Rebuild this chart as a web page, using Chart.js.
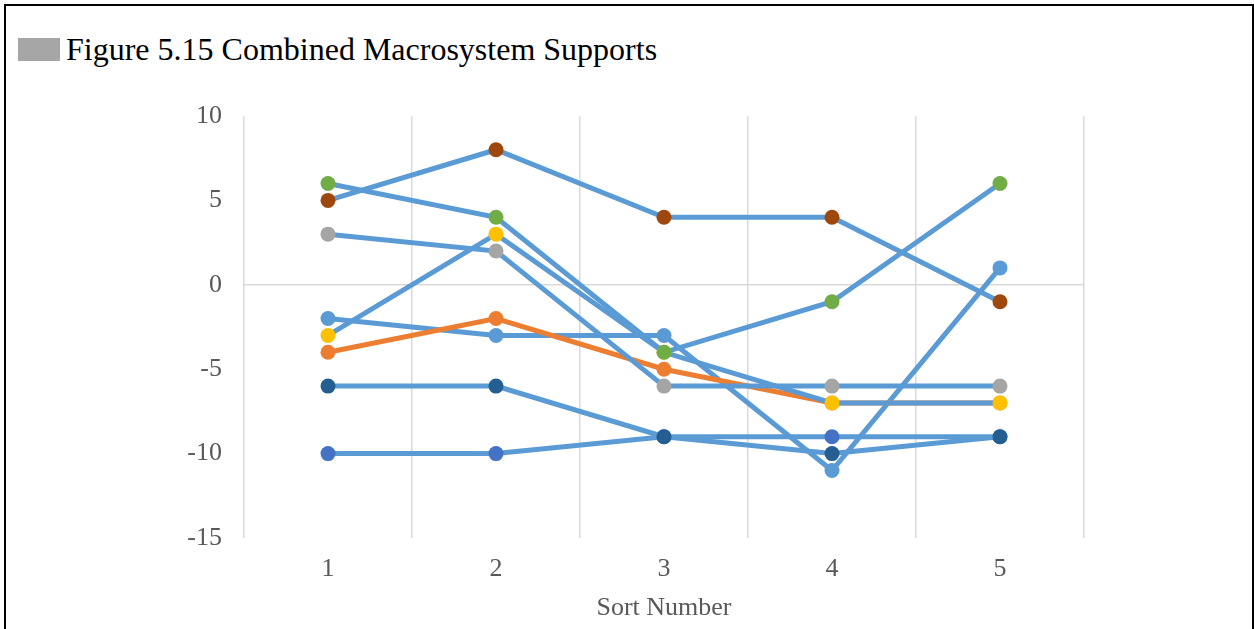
<!DOCTYPE html>
<html>
<head>
<meta charset="utf-8">
<script src="https://cdn.jsdelivr.net/npm/chart.js@4.4.1/dist/chart.umd.min.js"></script>
<style>
  html, body { margin: 0; padding: 0; background: #fff; }
  #wrap { position: relative; width: 1254px; height: 629px; overflow: hidden; }
  #frame { position: absolute; left: 4px; top: 4px; width: 1246px; height: 700px; border: 2px solid #000; }
  #titulo { position: absolute; left: 66px; top: 33px; font: 32px/32px "Liberation Serif", serif; color: #000; white-space: nowrap; }
  #caixa { position: absolute; left: 18px; top: 38px; width: 42px; height: 23px; background: #A6A6A6; }
  #grafico { position: absolute; left: 0; top: 0; }
</style>
</head>
<body>
<div id="wrap">
  <div id="frame"></div>
  <div id="caixa"></div>
  <div id="titulo">Figure 5.15 Combined Macrosystem Supports</div>
  <canvas id="grafico" width="1254" height="629"></canvas>
</div>
<script>
// ====== DADOS ======
const sortNumbers = ["1", "2", "3", "4", "5"];
const yTicks = [10, 5, 0, -5, -10, -15];

const serie1 = [-2, -3, -3, -11, 1];
const serie2 = [-4, -2, -5, -7, -7];
const serie3 = [3, 2, -6, -6, -6];
const serie4 = [-3, 3, -4, -7, -7];
const serie5 = [-10, -10, -9, -9, -9];
const serie6 = [6, 4, -4, -1, 6];
const serie7 = [-6, -6, -9, -10, -9];
const serie8 = [5, 8, 4, 4, -1];

const series = [serie1, serie2, serie3, serie4, serie5, serie6, serie7, serie8];
const corPontos = ["#5B9BD5", "#ED7D31", "#A5A5A5", "#FFC000", "#4472C4", "#70AD47", "#255E91", "#9E480E"];
const corLinhas = ["#5B9BD5", "#ED7D31", "#5B9BD5", "#5B9BD5", "#5B9BD5", "#5B9BD5", "#5B9BD5", "#5B9BD5"];

// ====== GRÁFICO ======
const fonteEixo = { family: "'Liberation Serif', serif", size: 26 };

new Chart(document.getElementById("grafico"), {
  type: "line",
  data: {
    labels: sortNumbers,
    datasets: series.map((valores, i) => ({
      label: "Series " + (i + 1),
      data: valores,
      borderColor: corLinhas[i],
      borderWidth: 5,
      pointBackgroundColor: corPontos[i],
      pointBorderColor: corPontos[i],
      pointBorderWidth: 0,
      pointRadius: 7.5,
      pointHoverRadius: 7.5,
      tension: 0,
      order: series.length - i
    }))
  },
  options: {
    responsive: false,
    animation: false,
    events: [],
    layout: { padding: { top: 116, right: 170, bottom: 0, left: 0 } },
    plugins: { legend: { display: false }, tooltip: { enabled: false } },
    scales: {
      x: {
        offset: true,
        grid: { offset: true, color: "#D9D9D9", lineWidth: 1.5, drawTicks: false },
        border: { display: false },
        ticks: { color: "#595959", font: fonteEixo, padding: 16 },
        title: { display: true, text: "Sort Number", color: "#595959", font: fonteEixo, padding: { top: 0, bottom: 5 } },
        afterFit: s => { s.height = 91; }
      },
      y: {
        min: -15,
        max: 10,
        afterBuildTicks: s => { s.ticks = yTicks.map(v => ({ value: v })); },
        grid: {
          drawTicks: false,
          lineWidth: 1.5,
          color: c => (c.tick && c.tick.value === 0 ? "#D9D9D9" : "rgba(0,0,0,0)")
        },
        border: { display: false },
        ticks: { color: "#595959", font: fonteEixo, padding: 22 },
        afterFit: s => { s.width = 244; }
      }
    }
  }
});
</script>
</body>
</html>
